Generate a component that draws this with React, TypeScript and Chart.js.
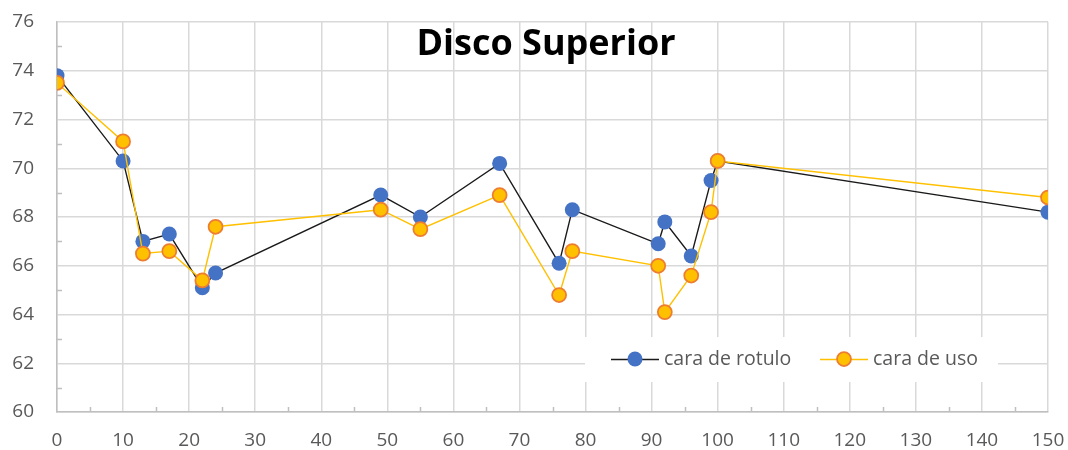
import React, { useEffect, useRef } from "react";
import { Chart, registerables } from "chart.js";

Chart.register(...registerables);

const chartTitle = "Disco Superior";
const xValues = [0, 10, 13, 17, 22, 24, 49, 55, 67, 76, 78, 91, 92, 96, 99, 100, 150];
const rotuloValues = [73.8, 70.3, 67.0, 67.3, 65.1, 65.7, 68.9, 68.0, 70.2, 66.1, 68.3, 66.9, 67.8, 66.4, 69.5, 70.3, 68.2];
const usoValues = [73.5, 71.1, 66.5, 66.6, 65.4, 67.6, 68.3, 67.5, 68.9, 64.8, 66.6, 66.0, 64.1, 65.6, 68.2, 70.3, 68.8];
const seriesNames = ["cara de rotulo", "cara de uso"];
const xMin = 0, xMax = 150, xStep = 10;
const yMin = 60, yMax = 76, yStep = 2;

const FONT = "'Open Sans', Lato, sans-serif";
const AXIS = "#bfbfbf";
const GRID = "#d9d9d9";
const TEXT = "#595959";

const overlayPlugin = {
  id: "overlay",
  beforeDatasetsDraw(chart: any) {
    const { ctx, chartArea, scales } = chart;
    const xs = scales.x, ys = scales.y;
    ctx.save();
    ctx.strokeStyle = AXIS;
    ctx.lineWidth = 1.5;
    for (let v = yMin + yStep / 2; v < yMax; v += yStep) {
      const y = Math.round(ys.getPixelForValue(v)) + 0.5;
      ctx.beginPath();
      ctx.moveTo(chartArea.left, y);
      ctx.lineTo(chartArea.left + 5, y);
      ctx.stroke();
    }
    for (let v = xMin + xStep / 2; v < xMax; v += xStep) {
      const x = Math.round(xs.getPixelForValue(v)) + 0.5;
      ctx.beginPath();
      ctx.moveTo(x, chartArea.bottom);
      ctx.lineTo(x, chartArea.bottom - 5);
      ctx.stroke();
    }
    ctx.restore();
  },
  afterDatasetsDraw(chart: any) {
    const { ctx } = chart;
    ctx.save();
    ctx.fillStyle = "#000000";
    ctx.font = `bold 36px ${FONT}`;
    ctx.textAlign = "center";
    ctx.textBaseline = "middle";
    ctx.fillText(chartTitle, 546, 45);
    ctx.fillStyle = "#ffffff";
    ctx.fillRect(585, 337, 413, 45);
    const ly = 359;
    const entries = [
      { x0: 611, ds: chart.data.datasets[0] },
      { x0: 820, ds: chart.data.datasets[1] },
    ];
    ctx.font = `19.5px ${FONT}`;
    ctx.textAlign = "left";
    ctx.textBaseline = "middle";
    for (const e of entries) {
      const ds = e.ds;
      ctx.strokeStyle = ds.borderColor;
      ctx.lineWidth = ds.borderWidth;
      ctx.beginPath();
      ctx.moveTo(e.x0, ly + 0.5);
      ctx.lineTo(e.x0 + 48, ly + 0.5);
      ctx.stroke();
      ctx.beginPath();
      ctx.arc(e.x0 + 24, ly, ds.pointRadius, 0, Math.PI * 2);
      ctx.fillStyle = ds.pointBackgroundColor;
      ctx.fill();
      if (ds.pointBorderWidth > 0) {
        ctx.lineWidth = ds.pointBorderWidth;
        ctx.strokeStyle = ds.pointBorderColor;
        ctx.stroke();
      }
      ctx.fillStyle = TEXT;
      ctx.fillText(ds.label, e.x0 + 53, ly);
    }
    ctx.restore();
  },
};

export default function App() {
  const ref = useRef<HTMLCanvasElement>(null);
  useEffect(() => {
    if (!ref.current) return;
    const chart = new Chart(ref.current, {
      type: "scatter",
      data: {
        datasets: [
          {
            label: seriesNames[0],
            data: xValues.map((x, i) => ({ x, y: rotuloValues[i] })),
            showLine: true,
            borderColor: "#1a1a1a",
            borderWidth: 1.4,
            pointRadius: 7.5,
            pointHoverRadius: 7.5,
            pointBackgroundColor: "#4472C4",
            pointBorderColor: "#4472C4",
            pointBorderWidth: 0,
            order: 1,
          },
          {
            label: seriesNames[1],
            data: xValues.map((x, i) => ({ x, y: usoValues[i] })),
            showLine: true,
            borderColor: "#FFC000",
            borderWidth: 1.4,
            pointRadius: 7,
            pointHoverRadius: 7,
            pointBackgroundColor: "#FFC000",
            pointBorderColor: "#ED7D31",
            pointBorderWidth: 1.75,
            order: 0,
          },
        ],
      },
      options: {
        animation: false,
        responsive: false,
        layout: { padding: { left: 0, top: 22, right: 20, bottom: 0 } },
        plugins: { legend: { display: false }, title: { display: false }, tooltip: { enabled: false } },
        scales: {
          x: {
            type: "linear",
            min: xMin,
            max: xMax,
            afterFit: (s: any) => {
              s.height = 38;
              s.paddingLeft = 0; s.paddingRight = 0; s.paddingTop = 0; s.paddingBottom = 0;
            },
            ticks: { stepSize: xStep, color: TEXT, font: { family: FONT, size: 19 }, padding: 17 },
            grid: { color: GRID, lineWidth: 1.5, drawTicks: false },
            border: { color: AXIS, width: 1.5 },
          },
          y: {
            min: yMin,
            max: yMax,
            afterFit: (s: any) => {
              s.width = 57;
              s.paddingLeft = 0; s.paddingRight = 0; s.paddingTop = 0; s.paddingBottom = 0;
            },
            ticks: { stepSize: yStep, color: TEXT, font: { family: FONT, size: 19 }, padding: 23 },
            grid: { color: GRID, lineWidth: 1.5, drawTicks: false },
            border: { color: AXIS, width: 1.5 },
          },
        },
      },
      plugins: [overlayPlugin],
    });
    return () => chart.destroy();
  }, []);
  return (
    <div style={{ position: "fixed", left: 0, top: 0, width: 1068, height: 450, background: "#fff" }}>
      <canvas ref={ref} width={1068} height={450} />
    </div>
  );
}
